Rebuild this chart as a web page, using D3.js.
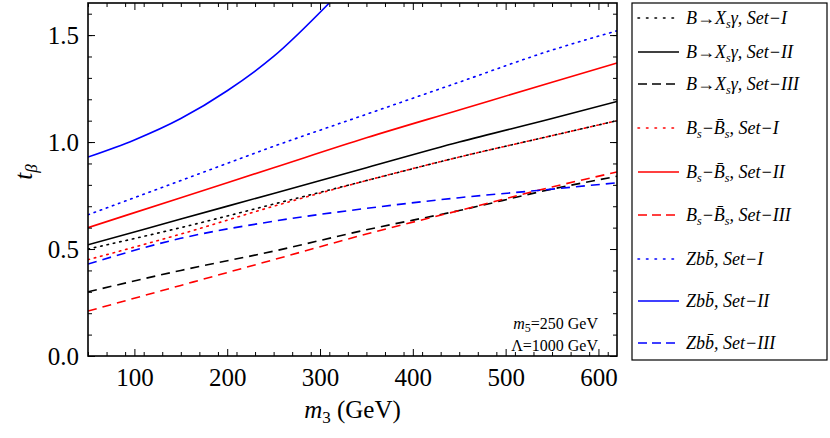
<!DOCTYPE html>
<html><head><meta charset="utf-8">
<script src="https://cdn.jsdelivr.net/npm/d3@7"></script>
<style>
body{margin:0;background:#fff}
svg, svg text{font-family:'Liberation Serif','Times New Roman',Tinos,serif !important;fill:#000}
</style></head>
<body><div id="chart"></div>
<script>
// m3 grid (GeV)
var m3 = [50, 150, 250, 350, 450, 550, 620];

// t_beta values
var bxsSet1 = [0.50, 0.60, 0.71, 0.82, 0.93, 1.03, 1.10];
var bxsSet2 = [0.52, 0.64, 0.76, 0.88, 1.00, 1.11, 1.19];
var bxsSet3 = [0.30, 0.40, 0.49, 0.59, 0.68, 0.78, 0.84];
var bsSet1 = [0.45, 0.57, 0.70, 0.82, 0.93, 1.03, 1.10];
var bsSet2 = [0.60, 0.74, 0.88, 1.02, 1.15, 1.28, 1.37];
var bsSet3 = [0.21, 0.33, 0.45, 0.57, 0.68, 0.79, 0.86];
var zbbSet1 = [0.66, 0.82, 0.98, 1.13, 1.28, 1.43, 1.52];
var zbbSet3 = [0.43, 0.55, 0.63, 0.69, 0.74, 0.78, 0.81];
// Set-II Zbb is steep; own grid
var zbb2X = [50, 100, 150, 200, 250, 310];
var zbb2Y = [0.93, 1.01, 1.11, 1.24, 1.40, 1.65];

var xTicks = [100, 200, 300, 400, 500, 600];
var yTicks = [0.0, 0.5, 1.0, 1.5];

var series = [
  {x: m3, y: bxsSet1, color: "#000", dash: "1.5,5", label: ["B→X", "s", "γ, Set−I"]},
  {x: m3, y: bxsSet2, color: "#000", dash: null, label: ["B→X", "s", "γ, Set−II"]},
  {x: m3, y: bxsSet3, color: "#000", dash: "9,6", label: ["B→X", "s", "γ, Set−III"]},
  {x: m3, y: bsSet1, color: "#f00", dash: "1.5,5", label: ["B", "s", "−B̄", "s", ", Set−I"]},
  {x: m3, y: bsSet2, color: "#f00", dash: null, label: ["B", "s", "−B̄", "s", ", Set−II"]},
  {x: m3, y: bsSet3, color: "#f00", dash: "9,6", label: ["B", "s", "−B̄", "s", ", Set−III"]},
  {x: m3, y: zbbSet1, color: "#00f", dash: "1.5,5", label: ["Zbb̄, Set−I"]},
  {x: zbb2X, y: zbb2Y, color: "#00f", dash: null, label: ["Zbb̄, Set−II"]},
  {x: m3, y: zbbSet3, color: "#00f", dash: "9,6", label: ["Zbb̄, Set−III"]}
];

var W = 830, H = 438;
var L = 88, R = 617, T = 3, B = 356;
var FONT = "'Liberation Serif','Times New Roman',Tinos,serif";

var svg = d3.select("#chart").append("svg").attr("width", W).attr("height", H)
  .attr("font-family", FONT);

var xScale = d3.scaleLinear().domain([50, 620]).range([L, R]);
var yScale = d3.scaleLinear().domain([0, 1.65]).range([B, T]);

svg.append("clipPath").attr("id", "clip").append("rect")
  .attr("x", L).attr("y", T).attr("width", R - L).attr("height", B - T);

// lines
var line = d3.line().curve(d3.curveMonotoneX);
var plot = svg.append("g").attr("clip-path", "url(#clip)");
series.forEach(function(s) {
  var pts = s.x.map(function(v, i) { return [xScale(v), yScale(s.y[i])]; });
  plot.append("path").attr("d", line(pts))
    .attr("fill", "none").attr("stroke", s.color).attr("stroke-width", 1.6)
    .attr("stroke-linecap", s.dash && s.dash.indexOf("1.5") == 0 ? "round" : "butt")
    .attr("stroke-dasharray", s.dash);
});

// axes, ticks inward on all sides
var xMinor = d3.range(50, 621, 20);
var yMinor = d3.range(0, 1.65, 0.1);
function ax(axis, tr, labels) {
  var g = svg.append("g").attr("transform", tr).call(axis);
  g.attr("font-family", FONT);
  g.select(".domain").remove();
  g.selectAll("line").attr("stroke", "#000");
  if (!labels) g.selectAll("text").remove();
  else g.selectAll("text").style("font-size", "25px");
  return g;
}
ax(d3.axisBottom(xScale).tickValues(xTicks).tickSizeInner(-7).tickPadding(12), "translate(0," + B + ")", true);
ax(d3.axisBottom(xScale).tickValues(xMinor).tickSizeInner(-4).tickFormat(""), "translate(0," + B + ")", false);
ax(d3.axisTop(xScale).tickValues(xTicks).tickSizeInner(-7), "translate(0," + T + ")", false);
ax(d3.axisTop(xScale).tickValues(xMinor).tickSizeInner(-4), "translate(0," + T + ")", false);
ax(d3.axisLeft(yScale).tickValues(yTicks).tickSizeInner(-7).tickPadding(9).tickFormat(d3.format(".1f")), "translate(" + L + ",0)", true);
ax(d3.axisLeft(yScale).tickValues(yMinor).tickSizeInner(-4).tickFormat(""), "translate(" + L + ",0)", false);
ax(d3.axisRight(yScale).tickValues(yTicks).tickSizeInner(-7), "translate(" + R + ",0)", false);
ax(d3.axisRight(yScale).tickValues(yMinor).tickSizeInner(-4), "translate(" + R + ",0)", false);

svg.append("rect").attr("x", L).attr("y", T).attr("width", R - L).attr("height", B - T)
  .attr("fill", "none").attr("stroke", "#000").attr("stroke-width", 1.6);

// axis titles
var xt = svg.append("text").attr("x", (L + R) / 2).attr("y", 418).attr("text-anchor", "middle").style("font-size", "25px");
xt.append("tspan").style("font-style", "italic").text("m");
xt.append("tspan").attr("dy", 5).style("font-size", "17px").text("3");
xt.append("tspan").attr("dy", -5).text(" (GeV)");
var yt = svg.append("text").attr("transform", "translate(32,172) rotate(-90)").attr("text-anchor", "middle").style("font-size", "25px");
yt.append("tspan").style("font-style", "italic").text("t");
yt.append("tspan").attr("dy", 5).style("font-size", "17px").style("font-style", "italic").text("β");

// annotation
var a1 = svg.append("text").attr("x", 598).attr("y", 329).attr("text-anchor", "end").style("font-size", "16px");
a1.append("tspan").style("font-style", "italic").text("m");
a1.append("tspan").attr("dy", 3).style("font-size", "12px").text("5");
a1.append("tspan").attr("dy", -3).text("=250 GeV");
svg.append("text").attr("x", 598).attr("y", 351).attr("text-anchor", "end").style("font-size", "16px").text("Λ=1000 GeV");

// legend
var lg = svg.append("g");
lg.append("rect").attr("x", 632).attr("y", 3).attr("width", 195).attr("height", 357)
  .attr("fill", "none").attr("stroke", "#000").attr("stroke-width", 1.2);
var rowY = [18, 52, 84, 128, 172, 215, 259, 301, 343];
series.forEach(function(s, i) {
  var y = rowY[i];
  lg.append("line").attr("x1", 638).attr("x2", 679).attr("y1", y).attr("y2", y)
    .attr("stroke", s.color).attr("stroke-width", 1.6)
    .attr("stroke-linecap", s.dash && s.dash.indexOf("1.5") == 0 ? "round" : "butt")
    .attr("stroke-dasharray", s.dash ? (s.dash.indexOf("1.5") == 0 ? "1.5,7" : "9,5") : null);
  var t = lg.append("text").attr("x", 686).attr("y", y + 6).style("font-size", "18px").style("font-style", "italic");
  s.label.forEach(function(part, j) {
    var sub = (j % 2 == 1);
    t.append("tspan").attr("dy", sub ? 4 : (j > 0 ? -4 : 0))
      .style("font-size", sub ? "12px" : "18px").text(part);
  });
});
</script></body></html>
